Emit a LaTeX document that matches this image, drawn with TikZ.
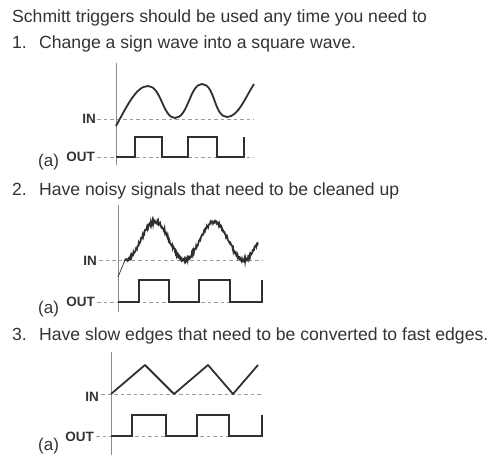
\documentclass[tikz,border=0pt]{standalone}
\usepackage{fontspec}
\setmainfont{Liberation Sans}
\definecolor{txt}{HTML}{333333}
\definecolor{wave}{HTML}{303030}
\definecolor{axisgray}{HTML}{8C8C8C}
\definecolor{dashgray}{HTML}{9C9C9C}
\begin{document}
\begin{tikzpicture}[x=1pt,y=-1pt,
  body/.style={anchor=base west,inner sep=0pt,text=txt,font=\fontsize{17.6}{20}\selectfont},
  sig/.style={anchor=east,inner sep=0pt,text=txt,font=\fontsize{13.5}{14}\selectfont\bfseries},
  alabel/.style={anchor=base west,inner sep=0pt,text=txt,font=\fontsize{17}{18}\selectfont},
  axisline/.style={draw=axisgray,line width=0.9pt},
  refline/.style={draw=dashgray,line width=0.8pt,dash pattern=on 3.5pt off 3pt},
  wv/.style={draw=wave,line width=1.8pt,line join=round},
  sq/.style={draw=wave,line width=1.8pt,line join=miter}]
\useasboundingbox (0,0) rectangle (492,457);
\fill[white] (0,0) rectangle (492,457);

% text lines
\node[body] (t0) at (12,23) {Schmitt triggers should be used any time you need to};
\node[body] (n1) at (12,49) {1.};
\node[body] (t1) at (39,49) {Change a sign wave into a square wave.};
\node[body] (n2) at (12,195) {2.};
\node[body] (t2) at (39,195) {Have noisy signals that need to be cleaned up};
\node[body] (n3) at (12,340) {3.};
\node[body] (t3) at (39,340) {Have slow edges that need to be converted to fast edges.};

% ---------- panel 1 ----------
\node[sig] (in1) at (96,119) {IN};
\node[sig] (out1) at (95,157) {OUT};
\node[alabel] (a1) at (38,167) {(a)};
\draw[refline] (97,119) -- (254,119);
\draw[refline] (97,157) -- (254,157);
\draw[axisline] (116,63) -- (116,165);
\draw[wv] (116,126) .. controls (126,108) and (136,86) .. (148,86)
  .. controls (161,86) and (163,118) .. (175,118)
  .. controls (188,118) and (190,84) .. (202,84)
  .. controls (215,84) and (214,117) .. (227,117)
  .. controls (238,117) and (245,98) .. (254,84);
\draw[sq] (116,157) -- (135,157) -- (135,137) -- (162,137) -- (162,157) -- (188,157)
  -- (188,137) -- (217,137) -- (217,157) -- (244,157) -- (244,137);

% ---------- panel 2 ----------
\node[sig] (in2) at (97,261) {IN};
\node[sig] (out2) at (95,302) {OUT};
\node[alabel] (a2) at (38,313) {(a)};
\draw[refline] (99,260) -- (263,260);
\draw[refline] (97,302) -- (263,302);
\draw[axisline] (118,205) -- (118,312);
\pgfmathsetseed{11}
\draw[wave,line width=0.7pt] (118,277) -- (125,260);
\draw[draw=wave,line width=1.7pt,line join=miter] (125,260) -- plot[domain=125:258,samples=300]
  (\x,{241-19*sin(6.10169*(\x-155)+90)+1.8*rand});
\draw[sq] (118,302) -- (139,302) -- (139,280) -- (169,280) -- (169,302) -- (199,302)
  -- (199,280) -- (230,280) -- (230,302) -- (262,302) -- (262,280);

% ---------- panel 3 ----------
\node[sig] (in3) at (99,397) {IN};
\node[sig] (out3) at (94,437) {OUT};
\node[alabel] (a3) at (38,450) {(a)};
\draw[refline] (101,394) -- (263,394);
\draw[refline] (96,436) -- (263,436);
\draw[axisline] (111,352) -- (111,455);
\draw[wv] (111,394) -- (145,365) -- (174,394) -- (208,365) -- (233,394) -- (258,365);
\draw[sq] (111,436) -- (132,436) -- (132,415) -- (166,415) -- (166,436) -- (197,436)
  -- (197,415) -- (229,415) -- (229,436) -- (262,436) -- (262,415);
\end{tikzpicture}
\end{document}
